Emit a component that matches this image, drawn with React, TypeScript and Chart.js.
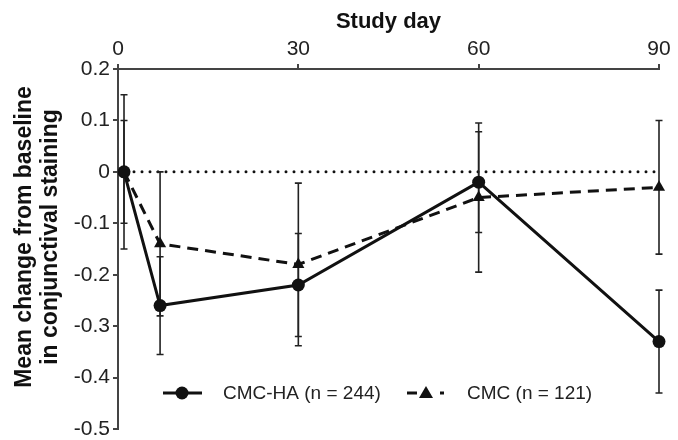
import React, { useEffect, useRef } from "react";
import { Chart, registerables } from "chart.js";

Chart.register(...registerables);

const studyDays = [1, 7, 30, 60, 90];
const cmcHaMean = [0, -0.26, -0.22, -0.02, -0.33];
const cmcHaErr = [0.15, 0.095, 0.1, 0.098, 0.1];
const cmcMean = [0, -0.14, -0.18, -0.05, -0.03];
const cmcErr = [0.1, 0.14, 0.158, 0.145, 0.13];
const seriesLabels = ["CMC-HA (n = 244)", "CMC (n = 121)"];
const xTitle = "Study day";
const yTitle = ["Mean change from baseline", "in conjunctival staining"];
const xTicks = [0, 30, 60, 90];
const yRange = [-0.5, 0.2];

const FONT = "'Liberation Sans', Arial, sans-serif";
const INK = "#111";
const AXIS = "#444";

const errorBarPlugin = {
  id: "errorBars",
  beforeDatasetsDraw(chart: any) {
    const { ctx, chartArea, scales } = chart;
    const xs = scales.x;
    const ys = scales.y;
    // zero reference dotted line
    ctx.save();
    ctx.strokeStyle = INK;
    ctx.lineWidth = 3;
    ctx.lineCap = "round";
    ctx.setLineDash([0, 8]);
    const y0 = ys.getPixelForValue(0);
    ctx.beginPath();
    ctx.moveTo(chartArea.left + 8, y0);
    ctx.lineTo(chartArea.right, y0);
    ctx.stroke();
    ctx.restore();

    const groups = [
      { m: cmcHaMean, e: cmcHaErr },
      { m: cmcMean, e: cmcErr },
    ];
    ctx.save();
    ctx.strokeStyle = "#222";
    ctx.lineWidth = 1.6;
    ctx.setLineDash([]);
    groups.forEach((g) => {
      studyDays.forEach((d, i) => {
        const x = xs.getPixelForValue(d);
        const yt = ys.getPixelForValue(g.m[i] + g.e[i]);
        const yb = ys.getPixelForValue(g.m[i] - g.e[i]);
        ctx.beginPath();
        ctx.moveTo(x, yt);
        ctx.lineTo(x, yb);
        ctx.moveTo(x - 3.5, yt);
        ctx.lineTo(x + 3.5, yt);
        ctx.moveTo(x - 3.5, yb);
        ctx.lineTo(x + 3.5, yb);
        ctx.stroke();
      });
    });
    ctx.restore();
  },
};

const yTitlePlugin = {
  id: "yTitle",
  afterDraw(chart: any) {
    const { ctx, chartArea } = chart;
    const cy = (chartArea.top + chartArea.bottom) / 2 - 12;
    ctx.save();
    ctx.fillStyle = "#111";
    ctx.font = `bold 23px ${FONT}`;
    ctx.textAlign = "center";
    ctx.textBaseline = "middle";
    [25, 51].forEach((x, i) => {
      ctx.save();
      ctx.translate(x, cy);
      ctx.rotate(-Math.PI / 2);
      ctx.fillText(yTitle[i], 0, 0);
      ctx.restore();
    });
    ctx.restore();
  },
};

const legendPlugin = {
  id: "customLegend",
  afterDraw(chart: any) {
    const { ctx, chartArea } = chart;
    const y = chartArea.bottom - 36;
    const l = chartArea.left;
    ctx.save();
    ctx.strokeStyle = INK;
    ctx.fillStyle = INK;
    ctx.lineWidth = 3;
    // item 1
    ctx.beginPath();
    ctx.moveTo(l + 45, y);
    ctx.lineTo(l + 84, y);
    ctx.stroke();
    ctx.beginPath();
    ctx.arc(l + 64, y, 6.5, 0, Math.PI * 2);
    ctx.fill();
    ctx.font = `19px ${FONT}`;
    ctx.textBaseline = "middle";
    ctx.fillStyle = "#222";
    ctx.fillText(seriesLabels[0], l + 105, y + 1);
    // item 2
    ctx.fillStyle = INK;
    ctx.beginPath();
    ctx.moveTo(l + 289, y);
    ctx.lineTo(l + 299, y);
    ctx.stroke();
    const tx = l + 308;
    ctx.beginPath();
    ctx.moveTo(tx, y - 7);
    ctx.lineTo(tx + 7, y + 5);
    ctx.lineTo(tx - 7, y + 5);
    ctx.closePath();
    ctx.fill();
    ctx.fillRect(l + 322, y - 1.5, 4, 3);
    ctx.fillStyle = "#222";
    ctx.fillText(seriesLabels[1], l + 349, y + 1);
    ctx.restore();
  },
};

export default function App() {
  const ref = useRef<HTMLCanvasElement | null>(null);
  useEffect(() => {
    if (!ref.current) return;
    const chart = new Chart(ref.current, {
      type: "line",
      data: {
        datasets: [
          {
            label: seriesLabels[0],
            data: studyDays.map((d, i) => ({ x: d, y: cmcHaMean[i] })),
            borderColor: INK,
            backgroundColor: INK,
            borderWidth: 3,
            pointRadius: 6.5,
            pointStyle: "circle",
            pointBorderWidth: 0,
            tension: 0,
            clip: false,
          },
          {
            label: seriesLabels[1],
            data: studyDays.map((d, i) => ({ x: d, y: cmcMean[i] })),
            borderColor: INK,
            backgroundColor: INK,
            borderWidth: 3,
            borderDash: [11, 7],
            pointRadius: 7,
            pointStyle: "triangle",
            pointBorderWidth: 0,
            tension: 0,
            clip: false,
          },
        ],
      },
      options: {
        responsive: false,
        animation: false,
        layout: { padding: { left: 0, right: 19, top: 0, bottom: 11 } },
        plugins: { legend: { display: false }, tooltip: { enabled: false } },
        scales: {
          x: {
            type: "linear",
            position: "top",
            min: 0,
            max: 90,
            afterBuildTicks(scale: any) {
              scale.ticks = xTicks.map((v) => ({ value: v }));
            },
            afterFit(scale: any) {
              scale.height = 69;
              scale.paddingLeft = 0;
              scale.paddingRight = 0;
            },
            ticks: {
              color: "#222",
              font: { family: FONT, size: 21 },
              padding: 2,
              maxRotation: 0,
            },
            grid: { drawOnChartArea: false, drawTicks: true, tickLength: 5, color: AXIS, lineWidth: 2 },
            border: { display: true, color: AXIS, width: 2 },
            title: {
              display: true,
              text: xTitle,
              color: "#111",
              font: { family: FONT, size: 22, weight: "bold" },
              padding: { top: 9, bottom: 0 },
            },
          },
          y: {
            type: "linear",
            min: yRange[0],
            max: yRange[1],
            afterFit(scale: any) {
              scale.width = 118;
              scale.paddingTop = 0;
              scale.paddingBottom = 0;
            },
            ticks: {
              stepSize: 0.1,
              color: "#222",
              font: { family: FONT, size: 21, lineHeight: 1 },
              padding: 3,
              callback: (v: any) => String(Math.round(Number(v) * 10) / 10),
            },
            grid: { drawOnChartArea: false, drawTicks: true, tickLength: 5, color: AXIS, lineWidth: 2 },
            border: { display: true, color: AXIS, width: 2 },
            title: { display: false },
          },
        },
      },
      plugins: [errorBarPlugin, yTitlePlugin, legendPlugin],
    });
    return () => chart.destroy();
  }, []);
  return (
    <div style={{ position: "absolute", left: 0, top: 0, width: 678, height: 440, background: "#fff" }}>
      <canvas ref={ref} width={678} height={440} />
    </div>
  );
}
